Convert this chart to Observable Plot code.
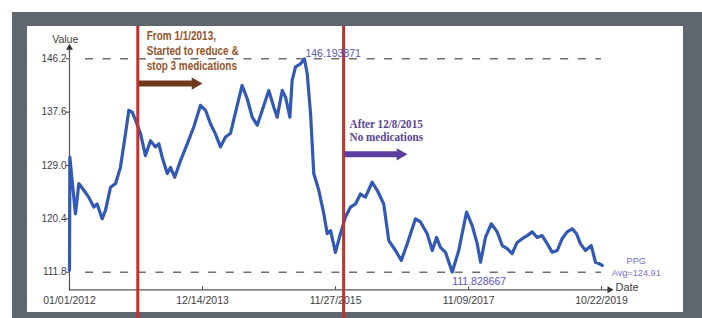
<!DOCTYPE html>
<html>
<head>
<meta charset="utf-8">
<script src="https://cdn.jsdelivr.net/npm/d3@7"></script>
<script src="https://cdn.jsdelivr.net/npm/@observablehq/plot@0.6"></script>
<style>
  html, body { margin: 0; padding: 0; background: #ffffff; overflow: hidden; }
  #wrap { position: relative; width: 702px; height: 318px; }
  #outer { position: absolute; left: 12px; top: 12px; width: 690px; height: 306px; background: #5f6670; }
  #panel { position: absolute; left: 27px; top: 26px; width: 656px; height: 286px; background: #ffffff; }
  #chart { position: absolute; left: 0; top: 0; }
</style>
</head>
<body>
<div id="wrap"><div id="outer"></div><div id="panel"></div><div id="chart"></div></div>
<script>
// ---- data ----
const dates = [
  "2012-01-01","2012-01-03","2012-01-15","2012-02-02","2012-02-20","2012-03-18","2012-04-13","2012-05-10",
  "2012-05-28","2012-06-24","2012-07-12","2012-08-08","2012-09-04","2012-09-30","2012-10-27","2012-11-14",
  "2012-12-02","2012-12-20","2013-01-16","2013-02-11","2013-03-10","2013-04-06","2013-04-24","2013-05-12",
  "2013-06-08","2013-06-25","2013-07-18","2013-08-18","2013-09-23","2013-10-28","2013-12-03","2013-12-30",
  "2014-01-26","2014-02-21","2014-03-20","2014-04-16","2014-05-13","2014-06-09","2014-07-14","2014-08-10",
  "2014-09-06","2014-10-03","2014-10-30","2014-12-04","2014-12-31","2015-01-18","2015-02-14","2015-03-04",
  "2015-03-27","2015-04-08","2015-04-26","2015-05-23","2015-06-13","2015-06-28","2015-07-16","2015-08-02",
  "2015-08-29","2015-09-25","2015-10-13","2015-10-31","2015-11-26","2015-12-23","2016-01-19","2016-02-15",
  "2016-03-13","2016-04-08","2016-05-05","2016-06-10","2016-07-07","2016-08-11","2016-09-07","2016-10-13",
  "2016-11-13","2016-12-15","2017-01-28","2017-02-24","2017-04-01","2017-04-28","2017-05-21","2017-06-11",
  "2017-07-08","2017-08-13","2017-09-17","2017-10-05","2017-10-29","2017-11-28","2017-12-25","2018-01-12",
  "2018-02-07","2018-03-10","2018-04-11","2018-05-08","2018-06-04","2018-06-30","2018-07-27","2018-08-23",
  "2018-09-19","2018-10-16","2018-11-11","2018-12-08","2019-01-04","2019-01-31","2019-02-27","2019-03-25",
  "2019-04-21","2019-05-18","2019-06-10","2019-07-01","2019-07-28","2019-08-28","2019-09-20","2019-10-08",
  "2019-10-26"
];
const ppgValues = [
  112.1,130.3,126.6,121.2,126.1,125.0,123.9,122.3,
  122.8,120.4,121.8,125.5,126.1,128.7,134.1,137.9,
  137.6,136.3,134.1,130.6,133.0,132.0,132.5,130.3,
  127.7,128.7,127.1,129.8,132.5,135.2,138.7,137.9,
  135.7,134.1,132.0,133.6,134.2,137.6,141.9,139.8,
  136.8,135.5,137.9,141.1,138.4,136.8,141.1,140.0,
  136.8,142.7,144.9,145.4,146.193871,143.8,137.3,127.7,
  125.0,121.2,118.0,118.5,115.0,118.0,120.7,122.3,
  122.8,124.4,123.9,126.3,125.0,122.8,116.9,115.3,
  113.7,116.4,120.4,119.9,118.0,115.3,117.4,115.8,
  115.0,111.828667,115.3,118.0,121.5,119.3,116.4,113.4,
  117.4,119.6,118.3,116.1,115.6,114.8,116.6,117.2,
  117.7,118.3,117.4,117.7,116.4,115.0,115.3,117.2,
  118.3,118.8,118.0,116.4,115.3,116.1,113.4,113.2,
  112.9
];
const yTicks = [111.8, 120.4, 129.0, 137.6, 146.2];
const xTickDates = ["2012-01-01", "2013-12-14", "2015-11-27", "2017-11-09", "2019-10-22"];
const phaseDates = ["2013-01-01", "2016-01-09"];
const phaseNotes = ["From 1/1/2013,\nStarted to reduce &\nstop 3 medications", "After 12/8/2015\nNo medications"];
const noteY = [147.6, 134.65];
const arrowEnds = ["2013-12-14", "2016-12-16"];
const arrowY = [142.2, 130.8];
const seriesName = "PPG";
const avgPPG = 124.91;
const xAxisTitle = "Date";
const yAxisTitle = "Value";

// ---- build ----
const parse = d3.utcParse("%Y-%m-%d");
const data = dates.map((d, i) => ({date: parse(d), value: ppgValues[i]}));
const xTicks = xTickDates.map(parse);
const x0 = xTicks[0], x1 = xTicks[xTicks.length - 1];
const maxPt = data.reduce((a, b) => (b.value > a.value ? b : a));
const minPt = data.reduce((a, b) => (b.value < a.value ? b : a));
const lastPt = data[data.length - 1];
const notes = phaseDates.map((d, i) => ({date: parse(d), end: parse(arrowEnds[i]), text: phaseNotes[i], ty: noteY[i], ay: arrowY[i]}));

const noteStyles = [
  {text: "#93532b", arrow: "#6f3a1e", font: "'Liberation Sans', Arial, sans-serif", size: 12, lh: 1.25, dx: 9, squeeze: 0.83},
  {text: "#5b4596", arrow: "#5a3ea0", font: "'Liberation Serif', 'Times New Roman', serif", size: 12, lh: 1.12, dx: 6, squeeze: 0.93}
];

const annoMarks = [];
notes.forEach((n, i) => {
  const s = noteStyles[i];
  annoMarks.push(
    Plot.text([n], {x: "date", y: "ty", text: "text", textAnchor: "start", lineAnchor: "middle", dx: s.dx,
      fill: s.text, fontWeight: "bold", fontSize: s.size, fontFamily: s.font, lineHeight: s.lh}),
    Plot.ruleY([n], {x1: "date", x2: "end", y: "ay", stroke: s.arrow, strokeWidth: 6, insetLeft: 1.5, insetRight: 9}),
    Plot.dot([n], {x: "end", y: "ay", symbol: "triangle", rotate: 90, r: 4.6, fill: s.arrow, stroke: null, dx: -7.2})
  );
});

const fmt = d3.utcFormat("%m/%d/%Y");

const chart = Plot.plot({
  width: 702,
  height: 318,
  marginLeft: 69,
  marginRight: 101,
  marginTop: 26,
  marginBottom: 28.7,
  style: {background: "transparent", fontFamily: "'Liberation Sans', Arial, sans-serif", color: "#3e3e3e"},
  x: {type: "utc", domain: [x0, x1], range: [69, 601]},
  y: {domain: [yTicks[0], yTicks[yTicks.length - 1]], range: [271.7, 58.3]},
  marks: [
    Plot.ruleY([yTicks[0], yTicks[yTicks.length - 1]], {stroke: "#6e6e6e", strokeWidth: 1.5, strokeDasharray: "8,9.6", insetLeft: 16}),
    Plot.frame({anchor: "left", insetTop: 21, stroke: "#555", strokeWidth: 1.2}),
    Plot.frame({anchor: "bottom", insetRight: -6, stroke: "#555", strokeWidth: 1.2}),
    Plot.dot([x0], {x: d => d, frameAnchor: "top", symbol: "triangle", r: 2.6, fill: "#333", stroke: null, dy: 21.3}),
    Plot.dot([x1], {x: d => d, frameAnchor: "bottom", symbol: "triangle", rotate: 90, r: 2.6, fill: "#333", stroke: null, dx: 8}),
    Plot.axisY({ticks: yTicks, tickFormat: d => d.toFixed(1), tickSize: 3, tickPadding: 0, fontSize: 10, label: null}),
    Plot.axisX({ticks: xTicks, tickFormat: fmt, tickSize: -3, tickPadding: 10, fontSize: 10.5, label: null}),
    Plot.text([yAxisTitle], {x: () => x0, frameAnchor: "top", text: d => d, dx: -4.3, dy: 9.5, fontSize: 10.5, fill: "#3e3e3e"}),
    Plot.text([xAxisTitle], {x: () => x1, frameAnchor: "bottom", text: d => d, dx: 14, dy: 1, textAnchor: "start", fontSize: 11, fill: "#3e3e3e"}),
    Plot.line(data, {x: "date", y: "value", stroke: "#3159b5", strokeWidth: 3.2, strokeLinejoin: "round"}),
    Plot.ruleX(notes, {x: "date", stroke: "#c62f2a", strokeWidth: 3, insetBottom: -29}),
    ...annoMarks,
    Plot.text([maxPt], {x: "date", y: "value", text: d => String(d.value), textAnchor: "start", dx: 1, dy: -5, fill: "#5656c0", fontSize: 10.5}),
    Plot.text([minPt], {x: "date", y: "value", text: d => String(d.value), textAnchor: "start", dx: 0, dy: 10, fill: "#5656c0", fontSize: 10.5}),
    Plot.text([lastPt], {x: "date", y: "value", text: () => `${seriesName}\nAvg=${avgPPG}`, dx: 34, dy: 1, fill: "#7373cf", fontSize: 9.2, lineHeight: 1.3})
  ]
});

// condense the two annotation blocks horizontally (the reference uses narrow bold faces)
noteStyles.forEach(s => {
  d3.select(chart).selectAll(`g[fill="${s.text}"] text`).each(function () {
    const t = d3.select(this);
    const tr = t.attr("transform");
    if (tr) {
      t.attr("transform", `${tr} scale(${s.squeeze},1)`);
    } else {
      const x = +t.attr("x") || 0, y = +t.attr("y") || 0;
      t.attr("x", null).attr("y", null).attr("transform", `translate(${x},${y}) scale(${s.squeeze},1)`);
    }
  });
});

document.getElementById("chart").appendChild(chart);
</script>
</body>
</html>
